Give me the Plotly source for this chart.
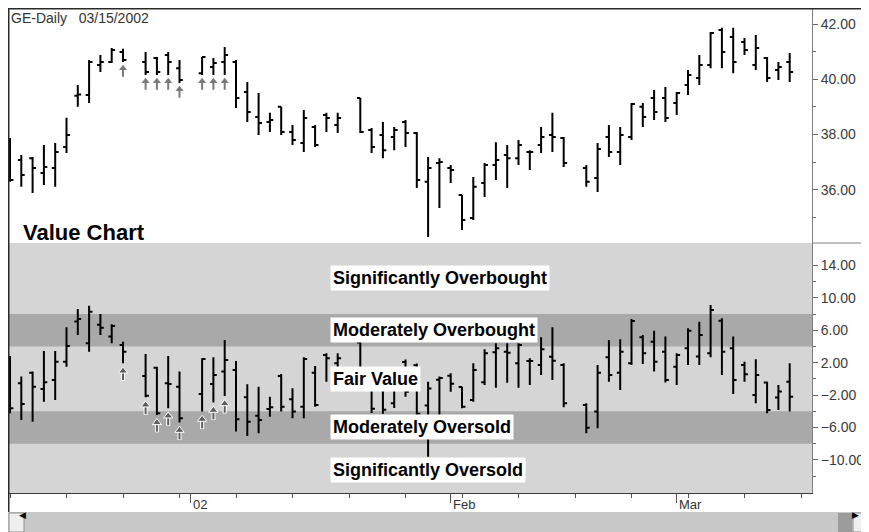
"""GE daily price bars with a Value Chart panel below, in Plotly."""

import numpy as np
import pandas as pd
import plotly.graph_objects as go

# ---- data -----------------------------------------------------------------
holidays = ["2001-12-25", "2002-01-01", "2002-01-21", "2002-02-18"]
dates = [d for d in pd.bdate_range("2001-12-10", "2002-03-15")
         if d.strftime("%Y-%m-%d") not in holidays]

price_open = [36.96, 37.07, 37.14, 36.60, 36.78, 37.54, 39.40, 39.43, 40.51, 40.62,
              40.99, 40.62, 40.77, 40.88, 40.40, 40.22, 40.44, 40.62, 40.62, 39.54,
              38.63, 38.45, 39.00, 38.09, 37.69, 38.27, 38.70, 38.34, 39.32, 38.16,
              37.98, 37.91, 38.45, 38.05, 36.28, 36.96, 36.78, 35.80, 34.97, 36.24,
              36.89, 37.25, 37.14, 37.36, 37.62, 37.98, 37.87, 36.78, 36.42, 37.91,
              37.36, 37.91, 39.00, 39.32, 39.32, 39.14, 39.79, 40.04, 40.51, 41.78,
              41.53, 41.35, 40.51, 40.77, 40.33, 40.62]
price_high = [37.87, 37.25, 37.18, 37.62, 37.69, 38.60, 39.79, 40.70, 40.88, 41.13,
              41.10, 40.99, 40.80, 40.99, 40.70, 40.80, 40.77, 41.17, 40.70, 39.90,
              39.50, 38.78, 39.00, 38.34, 38.88, 38.34, 38.78, 38.78, 39.32, 38.23,
              38.45, 38.27, 38.52, 38.09, 37.18, 37.14, 36.89, 35.80, 36.46, 36.96,
              37.72, 37.62, 37.80, 37.43, 38.27, 38.78, 37.91, 36.89, 37.69, 38.34,
              38.27, 39.14, 39.14, 39.61, 39.72, 39.54, 40.33, 40.88, 41.71, 41.86,
              41.86, 41.49, 41.60, 40.80, 40.62, 40.95]
price_low = [36.28, 36.10, 35.88, 36.17, 36.10, 37.33, 39.00, 39.14, 40.26, 40.59,
             40.62, 40.15, 40.15, 40.15, 39.86, 40.15, 40.15, 40.15, 38.96, 38.45,
             37.98, 38.09, 37.98, 37.62, 37.36, 37.54, 38.09, 38.05, 38.05, 37.33,
             37.14, 37.43, 37.54, 36.06, 34.28, 35.33, 36.24, 34.54, 34.90, 35.73,
             36.35, 36.06, 36.89, 36.71, 37.33, 37.36, 36.82, 36.10, 35.91, 37.18,
             36.89, 37.80, 38.27, 38.52, 38.45, 38.70, 39.43, 39.79, 40.40, 40.40,
             40.22, 40.88, 40.33, 39.90, 39.97, 39.90]
price_close = [36.35, 36.53, 36.78, 36.82, 37.36, 37.98, 39.45, 40.62, 40.62, 41.06,
               40.70, 40.26, 40.26, 40.62, 39.97, 40.80, 40.59, 40.88, 39.32, 38.81,
               38.41, 38.52, 38.09, 37.80, 38.59, 37.62, 38.59, 38.59, 38.09, 37.54,
               37.43, 38.16, 38.05, 36.35, 36.78, 37.00, 36.71, 34.90, 36.10, 36.89,
               37.07, 37.14, 37.62, 37.36, 37.91, 37.91, 36.96, 36.28, 37.47, 37.36,
               37.98, 39.10, 38.63, 38.81, 38.59, 39.50, 40.15, 40.51, 41.67, 40.99,
               40.62, 41.06, 41.13, 40.04, 40.44, 40.26]

value_open = [-1.78, -0.55, 0.77, -1.24, -0.13, 2.13, 7.10, 4.39, 6.70, 5.22,
              4.19, 0.36, 1.39, -0.55, -0.96, -1.86, -0.63, 0.90, 1.10, -2.27,
              -4.54, -3.71, 0.36, -2.52, -3.43, 0.77, 2.95, 1.92, 4.50, 0.30,
              -0.50, -3.00, 2.10, 1.70, -3.30, -0.10, 0.40, -1.00, -2.60, -0.40,
              3.28, 3.36, 1.93, 2.20, 1.72, 2.74, 1.72, -3.22, -4.04, 2.66,
              0.77, 1.92, 5.13, 4.60, 3.36, 1.51, 3.78, 2.75, 3.16, 7.19,
              3.78, 1.72, -1.99, -0.46, -2.31, -0.34]
value_high = [2.83, 0.28, 0.90, 3.45, 3.45, 6.37, 8.63, 9.04, 8.00, 6.74,
              4.60, 3.08, 1.51, 2.83, 0.90, 2.54, 2.66, 4.80, 2.21, -0.67,
              -0.96, -2.19, 0.61, -1.16, 2.66, 1.59, 3.16, 3.16, 4.60, 0.50,
              0.00, -0.50, 2.40, 1.90, -0.35, 0.30, 0.70, -0.96, 1.93, 3.65,
              4.40, 4.40, 4.40, 2.54, 5.13, 6.37, 1.93, -3.00, 1.72, 4.80,
              4.89, 7.40, 5.42, 5.96, 5.22, 3.16, 6.24, 7.07, 9.13, 7.48,
              5.22, 2.13, 2.42, -0.34, -0.75, 1.92]
value_low = [-4.25, -5.07, -5.28, -2.81, -2.60, 1.51, 5.42, 3.36, 5.42, 4.39,
             1.92, -2.27, -4.45, -3.63, -5.40, -4.04, -2.93, -2.11, -6.51, -7.05,
             -6.72, -4.66, -4.04, -4.87, -4.87, -3.43, -0.34, -0.13, -1.00, -4.20,
             -4.30, -3.60, -2.20, -4.60, -9.60, -5.50, -1.60, -3.63, -2.81, -0.75,
             -1.10, -0.47, -1.10, -0.75, 0.48, -0.14, -3.50, -6.72, -6.10, -0.34,
             -1.37, 1.72, 1.84, 0.90, -0.46, -0.75, 1.72, 1.72, 2.66, 0.48,
             -1.86, -0.34, -3.02, -4.25, -3.84, -4.04]
value_close = [-3.63, -3.10, -0.96, -0.42, 2.13, 4.06, 7.40, 8.30, 6.30, 6.53,
               3.36, -2.07, -4.25, -0.63, -4.87, 2.46, 0.48, 2.33, -4.99, -5.28,
               -5.07, -3.51, -3.43, -4.04, 2.46, -3.22, 2.54, 2.54, -0.80, -3.70,
               -3.80, -1.20, -1.60, -4.30, -1.20, 0.10, -0.60, -3.43, 1.10, 3.16,
               3.78, 3.24, 4.19, 2.20, 3.65, 2.25, -3.00, -6.02, 0.77, 0.48,
               3.36, 7.15, 3.16, 2.13, -0.13, 2.95, 5.96, 5.42, 8.51, 3.36,
               -0.13, 0.57, 0.48, -3.84, -1.57, -2.19]

signal_dates = ["2001-12-24", "2001-12-26", "2001-12-27", "2001-12-28",
                "2001-12-31", "2002-01-02", "2002-01-03", "2002-01-04"]

month_dates = ["2002-01-01", "2002-02-01", "2002-03-01"]
month_labels = ["02", "Feb", "Mar"]

price_ticks = [36, 38, 40, 42]
price_minor = [35, 37, 39, 41]
value_ticks = [14, 10, 6, 2, -2, -6, -10]
value_minor = [12, 8, 4, 0, -4, -8, -12]

zones = ["Significantly Overbought", "Moderately Overbought", "Fair Value",
         "Moderately Oversold", "Significantly Oversold"]

# ---- geometry ---------------------------------------------------------------
# the page body has an 8px margin, so the figure is 8px smaller than the window
OFF = 8
W, H = 869 - OFF, 532 - OFF
ML, MR, MT, MB = 0, 57, 0, 39
PW, PH = W - ML - MR, H - MT - MB
SPLIT = (H - MB - (243 - OFF)) / PH   # boundary between the two panels


def px_x(x):
    """window pixel -> paper x"""
    return (x - OFF - ML) / PW


def px_y(y):
    """window pixel -> paper y"""
    return (H - MB - (y - OFF)) / PH


start = np.datetime64("2001-12-10")
day = np.array(dates, dtype="datetime64[D]")
slot = np.busday_count(start, day)
sig = np.isin(day, np.array(signal_dates, dtype="datetime64[D]"))
month_slots = np.busday_count(start, np.array(month_dates, dtype="datetime64[D]"))
week_slots = list(range(0, 75, 5))

FONT = "Arial, Liberation Sans, sans-serif"
BAR = dict(line=dict(color="black", width=2))

fig = go.Figure()
fig.add_trace(go.Ohlc(x=slot, open=price_open, high=price_high, low=price_low,
                      close=price_close, increasing=BAR, decreasing=BAR,
                      tickwidth=0.3, xaxis="x", yaxis="y", hoverinfo="skip"))
fig.add_trace(go.Ohlc(x=slot, open=value_open, high=value_high, low=value_low,
                      close=value_close, increasing=BAR, decreasing=BAR,
                      tickwidth=0.3, xaxis="x2", yaxis="y2", hoverinfo="skip"))

# signal arrows under the lows: a stem and a head
p_low = np.array(price_low)[sig]
v_low = np.array(value_low)[sig]
fig.add_trace(go.Scatter(x=slot[sig], y=p_low - 0.38, mode="markers",
                         marker=dict(symbol="line-ns", size=6,
                                     line=dict(color="#7a7a7a", width=2)),
                         xaxis="x", yaxis="y", hoverinfo="skip"))
fig.add_trace(go.Scatter(x=slot[sig], y=p_low - 0.22, mode="markers",
                         marker=dict(symbol="triangle-up", size=7, color="#7a7a7a",
                                     line_width=0),
                         xaxis="x", yaxis="y", hoverinfo="skip"))
fig.add_trace(go.Scatter(x=slot[sig], y=v_low - 1.55, mode="markers",
                         marker=dict(symbol="line-ns", size=7,
                                     line=dict(color="white", width=4)),
                         xaxis="x2", yaxis="y2", hoverinfo="skip"))
fig.add_trace(go.Scatter(x=slot[sig], y=v_low - 1.55, mode="markers",
                         marker=dict(symbol="line-ns", size=6,
                                     line=dict(color="#5e5e5e", width=2)),
                         xaxis="x2", yaxis="y2", hoverinfo="skip"))
fig.add_trace(go.Scatter(x=slot[sig], y=v_low - 0.95, mode="markers",
                         marker=dict(symbol="triangle-up", size=8, color="#5e5e5e",
                                     line=dict(color="white", width=1)),
                         xaxis="x2", yaxis="y2", hoverinfo="skip"))

xr = [(OFF - 10) / 11.3, (812 - 10) / 11.3]
tickfont = dict(family=FONT, size=14, color="#3a3a3a")

shapes = [
    # value chart bands
    dict(type="rect", xref="x2 domain", yref="y2 domain", x0=0, x1=1, y0=0, y1=1,
         fillcolor="#d5d5d5", line_width=0, layer="below"),
    dict(type="rect", xref="x2 domain", yref="y2", x0=0, x1=1, y0=4, y1=8,
         fillcolor="#a9a9a9", line_width=0, layer="below"),
    dict(type="rect", xref="x2 domain", yref="y2", x0=0, x1=1, y0=-8, y1=-4,
         fillcolor="#a9a9a9", line_width=0, layer="below"),
    # frame lines
    dict(type="line", xref="paper", yref="paper", x0=px_x(8.5), x1=px_x(8.5),
         y0=px_y(8), y1=px_y(512), line=dict(color="#2a2a2a", width=2)),
    dict(type="line", xref="paper", yref="paper", x0=px_x(8), x1=px_x(869),
         y0=px_y(8.5), y1=px_y(8.5), line=dict(color="#2a2a2a", width=2)),
    dict(type="line", xref="paper", yref="paper", x0=1, x1=px_x(869),
         y0=SPLIT, y1=SPLIT, line=dict(color="#808080", width=1)),
    # scroll bar
    dict(type="rect", xref="paper", yref="paper", x0=px_x(8), x1=px_x(869),
         y0=px_y(532), y1=px_y(512), fillcolor="#c8c8c8", line_width=0),
    dict(type="rect", xref="paper", yref="paper", x0=px_x(9), x1=px_x(24),
         y0=px_y(532), y1=px_y(513), fillcolor="#eeeeee",
         line=dict(color="#909090", width=1)),
    dict(type="rect", xref="paper", yref="paper", x0=px_x(838), x1=px_x(852),
         y0=px_y(532), y1=px_y(513), fillcolor="#9c9c9c", line_width=0),
    dict(type="rect", xref="paper", yref="paper", x0=px_x(853), x1=px_x(869),
         y0=px_y(532), y1=px_y(513), fillcolor="#eeeeee",
         line=dict(color="#909090", width=1)),
]

annotations = [
    dict(text="GE-Daily\u00a0\u00a0\u00a003/15/2002", xref="paper", yref="paper",
         x=px_x(9), y=px_y(18), xanchor="left", yanchor="middle", showarrow=False,
         font=dict(family=FONT, size=14, color="#333333")),
    dict(text="<b>Value Chart</b>", xref="paper", yref="paper", x=px_x(21), y=px_y(232),
         xanchor="left", yanchor="middle", showarrow=False,
         font=dict(family=FONT, size=22, color="black")),
    dict(text="◀", xref="paper", yref="paper", x=px_x(16.5), y=px_y(522), showarrow=False,
         font=dict(family=FONT, size=9, color="black")),
    dict(text="▶", xref="paper", yref="paper", x=px_x(861), y=px_y(522), showarrow=False,
         font=dict(family=FONT, size=9, color="black")),
]
zone_y = [12.4, 6.0, 0.0, -6.0, -11.2]
for label, yv in zip(zones, zone_y):
    annotations.append(dict(text=f"<b>{label}</b>", xref="paper", yref="y2", x=px_x(330), y=yv,
                            xanchor="left", yanchor="middle", showarrow=False,
                            bgcolor="white", borderpad=2,
                            font=dict(family=FONT, size=18, color="black")))
for s, lab in zip(month_slots, month_labels):
    annotations.append(dict(text=lab, xref="x2", yref="paper", x=s, y=0, yshift=-2,
                            xanchor="left", yanchor="top", showarrow=False,
                            font=dict(family=FONT, size=13, color="#333333")))

fig.update_layout(
    width=W, height=H,
    margin=dict(l=ML, r=MR, t=MT, b=MB),
    paper_bgcolor="white", plot_bgcolor="white",
    showlegend=False,
    font=dict(family=FONT, size=12, color="#333333"),
    xaxis=dict(domain=[0, 1], anchor="y", range=xr, showticklabels=False, ticks="",
               showgrid=False, zeroline=False, automargin=False,
               rangeslider=dict(visible=False)),
    xaxis2=dict(domain=[0, 1], anchor="y2", range=xr, tickvals=month_slots,
                showticklabels=False, ticks="outside", ticklen=9, tickcolor="#555555",
                minor=dict(tickvals=week_slots, ticks="outside", ticklen=4,
                           tickcolor="#555555"),
                showline=True, linecolor="#3a3a3a", linewidth=1, showgrid=False,
                zeroline=False, automargin=False, rangeslider=dict(visible=False)),
    yaxis=dict(domain=[SPLIT, 1], anchor="x", side="right",
               range=[42 - (243 - 24) / 27.6, 42 - (8 - 24) / 27.6],
               tickvals=price_ticks, tickformat=".2f", ticks="outside", ticklen=5,
               tickcolor="#666666", tickfont=tickfont, automargin=False,
               minor=dict(tickvals=price_minor, ticks="outside", ticklen=3,
                          tickcolor="#666666"),
               showline=True, linecolor="#808080", showgrid=False, zeroline=False),
    yaxis2=dict(domain=[0, SPLIT], anchor="x2", side="right", range=[-14.09, 16.78],
                tickvals=value_ticks, tickformat=".2f", ticks="outside", ticklen=5,
                tickcolor="#666666", tickfont=tickfont, automargin=False,
                minor=dict(tickvals=value_minor, ticks="outside", ticklen=3,
                           tickcolor="#666666"),
                showline=True, linecolor="#808080", showgrid=False, zeroline=False),
    shapes=shapes,
    annotations=annotations,
)

fig.write_html("out.html")
